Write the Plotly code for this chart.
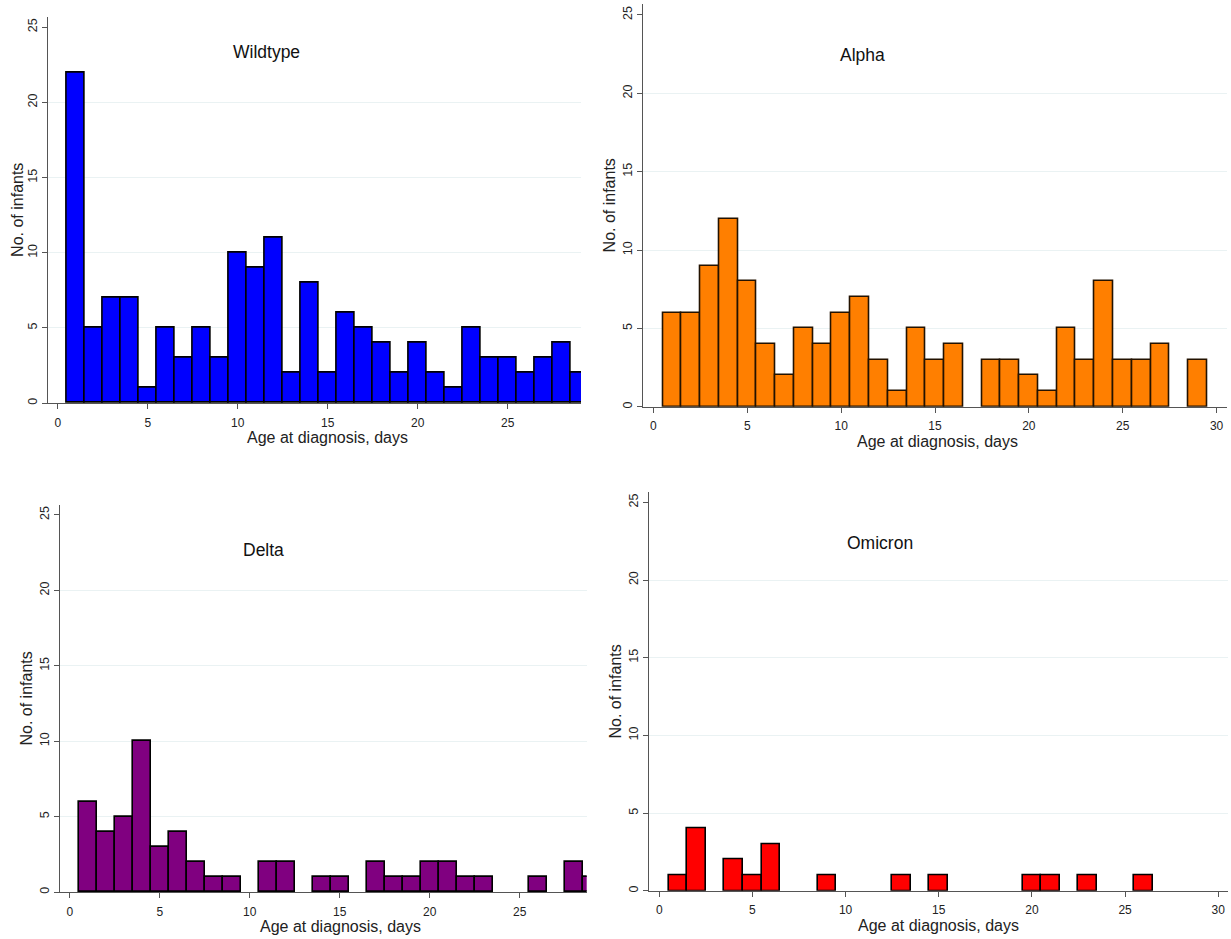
import plotly.graph_objects as go

W, H = 1231, 939

days = list(range(1, 30))

wildtype = [22, 5, 7, 7, 1, 5, 3, 5, 3, 10, 9, 11, 2, 8, 2, 6, 5, 4, 2, 4, 2, 1, 5, 3, 3, 2, 3, 4, 2]
alpha = [6, 6, 9, 12, 8, 4, 2, 5, 4, 6, 7, 3, 1, 5, 3, 4, 0, 3, 3, 2, 1, 5, 3, 8, 3, 3, 4, 0, 3]
delta = [6, 4, 5, 10, 3, 4, 2, 1, 1, 0, 2, 2, 0, 1, 1, 0, 2, 1, 1, 2, 2, 1, 1, 0, 0, 1, 0, 2, 1]
omicron = [1, 4, 0, 2, 1, 3, 0, 0, 1, 0, 0, 0, 1, 0, 1, 0, 0, 0, 0, 1, 1, 0, 1, 0, 0, 1, 0, 0, 0]

titles = ["Wildtype", "Alpha", "Delta", "Omicron"]
colors = ["#0000FF", "#FF7F00", "#800080", "#FF0000"]
outlines = ["#000000", "#231200", "#000000", "#000000"]
x_ticks = [[0, 5, 10, 15, 20, 25], [0, 5, 10, 15, 20, 25, 30],
           [0, 5, 10, 15, 20, 25], [0, 5, 10, 15, 20, 25, 30]]
y_ticks = [0, 5, 10, 15, 20, 25]
y_grid = [5, 10, 15, 20]
x_title = "Age at diagnosis, days"
y_title = "No. of infants"

# panel geometry in page pixels: x-domain (left, right), y-domain (top, bottom), x-range, y-range
panels = [
    dict(px=(47.7, 581.0), py=(16.7, 404.0), xr=(-0.56, 29.07), yr=(0, 25.7),
         title_xy=(266.7, 52), xt_xy=(327, 438), yt_x=18),
    dict(px=(643.3, 1226.7), py=(4.0, 407.7), xr=(-0.54, 30.54), yr=(0, 25.7),
         title_xy=(862, 55), xt_xy=(937, 442), yt_x=609),
    dict(px=(60.0, 586.7), py=(506.0, 894.0), xr=(-0.54, 28.72), yr=(0, 25.66),
         title_xy=(263, 551), xt_xy=(340, 928), yt_x=27),
    dict(px=(649.0, 1228.3), py=(493.3, 892.7), xr=(-0.55, 30.54), yr=(0, 25.65),
         title_xy=(880, 544), xt_xy=(938.5, 927), yt_x=616),
]

series = [wildtype, alpha, delta, omicron]


def fx(px):
    return px / W


def fy(py):
    return 1 - py / H


FONT = "Liberation Sans, Arial, sans-serif"
fig = go.Figure()
layout = dict(width=W, height=H, margin=dict(l=0, r=0, t=0, b=0),
              paper_bgcolor="white", plot_bgcolor="white", showlegend=False,
              font=dict(family=FONT, color="#222222"), bargap=0)
annotations = []

for i, (vals, p) in enumerate(zip(series, panels)):
    n = "" if i == 0 else str(i + 1)
    xs = [d for d, v in zip(days, vals) if v > 0]
    ys = [v for v in vals if v > 0]
    fig.add_trace(go.Bar(x=xs, y=ys, width=1, xaxis="x" + n, yaxis="y" + n,
                         marker=dict(color=colors[i], line=dict(color=outlines[i], width=1.6)),
                         hoverinfo="x+y"))
    layout["xaxis" + n] = dict(
        domain=[fx(p["px"][0]), fx(p["px"][1])], range=list(p["xr"]), anchor="y" + n,
        tickmode="array", tickvals=x_ticks[i], ticks="outside", ticklen=5, tickwidth=1,
        tickcolor="#555555", showline=True, linecolor="#555555", linewidth=1.3,
        showgrid=False, zeroline=False, tickfont=dict(size=12, color="#222222"),
        ticklabelstandoff=3, ticklabeloverflow="allow", fixedrange=True)
    layout["yaxis" + n] = dict(
        domain=[fy(p["py"][1]), fy(p["py"][0])], range=list(p["yr"]), anchor="x" + n,
        tickmode="array", tickvals=y_ticks, ticks="outside", ticklen=5, tickwidth=1,
        tickcolor="#555555", showline=True, linecolor="#555555", linewidth=1.3,
        showgrid=False, zeroline=False, tickangle=-90, tickfont=dict(size=12.5, color="#222222"),
        ticklabeloverflow="allow",
        minor=dict(tickmode="array", tickvals=y_grid, showgrid=True, gridcolor="#EAF2F3",
                   gridwidth=1.2, ticklen=0),
        fixedrange=True)
    annotations.append(dict(text=titles[i], xref="paper", yref="paper",
                            x=fx(p["title_xy"][0]), y=fy(p["title_xy"][1]),
                            showarrow=False, xanchor="center", yanchor="middle",
                            font=dict(size=17.5, color="#111111", family=FONT)))
    annotations.append(dict(text=x_title, xref="paper", yref="paper",
                            x=fx(p["xt_xy"][0]), y=fy(p["xt_xy"][1]),
                            showarrow=False, xanchor="center", yanchor="middle",
                            font=dict(size=16, color="#222222", family=FONT)))
    annotations.append(dict(text=y_title, xref="paper", yref="paper", textangle=-90,
                            x=fx(p["yt_x"]), y=fy((p["py"][0] + p["py"][1]) / 2),
                            showarrow=False, xanchor="center", yanchor="middle",
                            font=dict(size=16, color="#222222", family=FONT)))

layout["annotations"] = annotations
fig.update_layout(**layout)
# remove the browser's default 8px body margin so the figure sits at the page's top-left corner
fig.write_html("out.html", config={"displayModeBar": False},
               post_script="document.body.style.margin='0';document.body.style.overflow='hidden';")
